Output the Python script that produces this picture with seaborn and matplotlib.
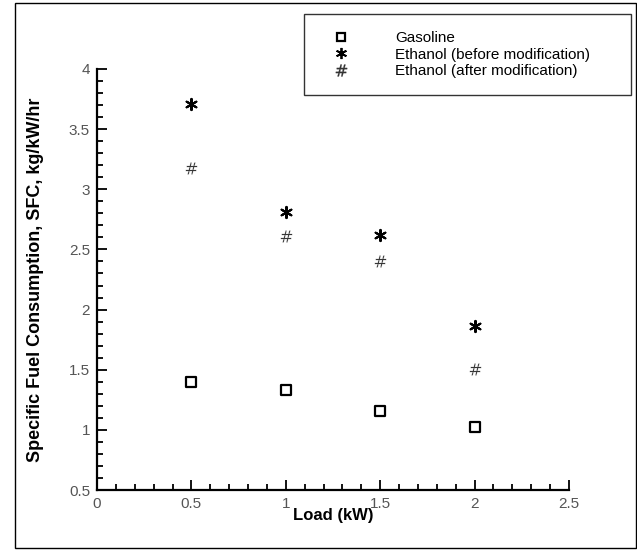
import numpy as np
import pandas as pd
import seaborn as sns
import matplotlib.pyplot as plt
from matplotlib.lines import Line2D
from matplotlib.patches import Rectangle
from matplotlib.ticker import MultipleLocator, FormatStrFormatter

# data
load_kw = [0.5, 1.0, 1.5, 2.0]
sfc_gasoline = [1.40, 1.33, 1.16, 1.02]
sfc_ethanol_before = [3.71, 2.81, 2.62, 1.86]
sfc_ethanol_after = [3.18, 2.61, 2.40, 1.51]
series_names = ["Gasoline", "Ethanol (before modification)", "Ethanol (after modification)"]

sns.set_theme(style="white")
plt.rcParams["font.family"] = ["Liberation Sans", "DejaVu Sans"]

df = pd.DataFrame({
    "load": load_kw * 3,
    "sfc": sfc_gasoline + sfc_ethanol_before + sfc_ethanol_after,
    "fuel": np.repeat(series_names, len(load_kw)),
})

fig = plt.figure(figsize=(6.37, 5.51), dpi=100)
ax = fig.add_axes([0.1523, 0.1107, 0.7409, 0.7641])

# one call per series: filled and line-art markers can't share a style mapping
sub = df[df["fuel"] == series_names[0]]
sns.scatterplot(data=sub, x="load", y="sfc", ax=ax, marker="s", s=42,
                facecolor="white", edgecolor="black", linewidth=1.6)
sub = df[df["fuel"] == series_names[1]]
sns.scatterplot(data=sub, x="load", y="sfc", ax=ax, marker=(6, 2, 0), s=65,
                color="black", linewidth=1.5)
sub = df[df["fuel"] == series_names[2]]
sns.scatterplot(data=sub, x="load", y="sfc", ax=ax, marker="$\\#$", s=75,
                color="#333333", linewidth=0.2)

ax.set_xlim(0, 2.5)
ax.set_ylim(0.5, 4)
ax.xaxis.set_major_locator(MultipleLocator(0.5))
ax.xaxis.set_minor_locator(MultipleLocator(0.1))
ax.yaxis.set_major_locator(MultipleLocator(0.5))
ax.yaxis.set_minor_locator(MultipleLocator(0.1))
ax.xaxis.set_major_formatter(FormatStrFormatter("%g"))
ax.yaxis.set_major_formatter(FormatStrFormatter("%g"))

sns.despine(ax=ax)
for side in ["left", "bottom"]:
    ax.spines[side].set_color("black")
    ax.spines[side].set_linewidth(1.6)

ax.tick_params(which="both", direction="in", color="black", width=1.3,
               labelsize=11, labelcolor="#555555", pad=5)
ax.tick_params(which="major", length=7)
ax.tick_params(which="minor", length=4)
ax.tick_params(axis="both", which="both", bottom=True, left=True)

ax.set_xlabel("Load (kW)", fontsize=12, fontweight="bold", color="black", labelpad=-2)
ax.set_ylabel("Specific Fuel Consumption, SFC, kg/kW/hr", fontsize=13,
              fontweight="bold", color="black", labelpad=18)

handles = [
    Line2D([], [], linestyle="none", marker="s", markersize=6,
           markerfacecolor="white", markeredgecolor="black", markeredgewidth=1.6),
    Line2D([], [], linestyle="none", marker=(6, 2, 0), markersize=8,
           color="black", markeredgewidth=1.3),
    Line2D([], [], linestyle="none", marker="$\\#$", markersize=8.5,
           color="#333333", markeredgewidth=0.2),
]
leg = fig.legend(handles, series_names, loc="upper left",
                 bbox_to_anchor=(0.477, 0.826, 0.514, 0.149), mode="expand",
                 borderaxespad=0, borderpad=1.15, handlelength=2.6,
                 handletextpad=2.2, labelspacing=0.15, fontsize=11,
                 frameon=True, fancybox=False, edgecolor="black")
leg.get_frame().set_linewidth(1.0)
for t in leg.get_texts():
    t.set_color("black")

# outer frame around the picture
fig.patches.append(Rectangle((15 / 637, 3 / 551), 621 / 637, 545 / 551,
                             transform=fig.transFigure, fill=False,
                             edgecolor="black", linewidth=1.0))

fig.savefig("out.png", dpi=100)
